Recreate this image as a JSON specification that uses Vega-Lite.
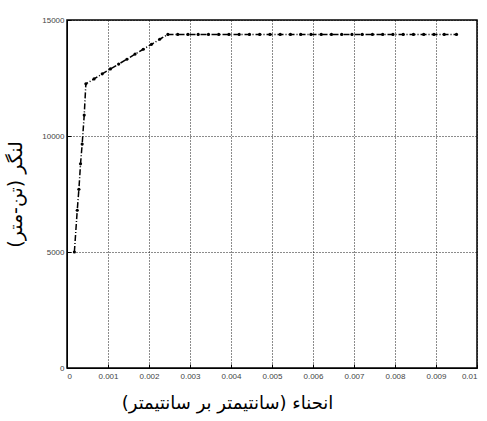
{
  "$schema": "https://vega.github.io/schema/vega-lite/v6.json",
  "width": 410,
  "height": 348,
  "autosize": "none",
  "padding": {"left": 67, "top": 20, "right": 10, "bottom": 53},
  "background": "white",
  "config": {
    "view": {"stroke": "black", "strokeWidth": 1.5},
    "axis": {
      "labelFont": "Liberation Sans",
      "labelFontSize": 8,
      "labelColor": "#444",
      "domainColor": "black",
      "tickColor": "black",
      "grid": true,
      "gridColor": "black",
      "gridDash": [1, 2],
      "gridOpacity": 0.9,
      "gridWidth": 1
    }
  },
  "data": {"values": [
    {"x": 0.00018, "y": 5000},
    {"x": 0.00025, "y": 6800},
    {"x": 0.00029, "y": 7700},
    {"x": 0.00033, "y": 8800},
    {"x": 0.00037, "y": 9650},
    {"x": 0.00042, "y": 10900},
    {"x": 0.00046, "y": 12250},
    {"x": 0.00066, "y": 12460},
    {"x": 0.00086, "y": 12680},
    {"x": 0.00106, "y": 12890},
    {"x": 0.00126, "y": 13100},
    {"x": 0.00146, "y": 13310},
    {"x": 0.00166, "y": 13530},
    {"x": 0.00186, "y": 13740},
    {"x": 0.00206, "y": 13950},
    {"x": 0.00226, "y": 14170},
    {"x": 0.00246, "y": 14380},
    {"x": 0.0027, "y": 14380},
    {"x": 0.00295, "y": 14380},
    {"x": 0.0032, "y": 14380},
    {"x": 0.00345, "y": 14380},
    {"x": 0.0037, "y": 14380},
    {"x": 0.00395, "y": 14380},
    {"x": 0.0042, "y": 14380},
    {"x": 0.00445, "y": 14380},
    {"x": 0.0047, "y": 14380},
    {"x": 0.00495, "y": 14380},
    {"x": 0.0052, "y": 14380},
    {"x": 0.00545, "y": 14380},
    {"x": 0.0057, "y": 14380},
    {"x": 0.00595, "y": 14380},
    {"x": 0.0062, "y": 14380},
    {"x": 0.00645, "y": 14380},
    {"x": 0.0067, "y": 14380},
    {"x": 0.00695, "y": 14380},
    {"x": 0.0072, "y": 14380},
    {"x": 0.00745, "y": 14380},
    {"x": 0.0077, "y": 14380},
    {"x": 0.00795, "y": 14380},
    {"x": 0.0082, "y": 14380},
    {"x": 0.00845, "y": 14380},
    {"x": 0.0087, "y": 14380},
    {"x": 0.00895, "y": 14380},
    {"x": 0.0092, "y": 14380},
    {"x": 0.0095, "y": 14380}
  ]},
  "layer": [
    {
      "mark": {"type": "line", "color": "black", "strokeWidth": 1.5, "strokeDash": [6, 2, 1, 2], "point": {"filled": true, "color": "black", "size": 10}},
      "encoding": {
        "x": {
          "field": "x", "type": "quantitative",
          "scale": {"domain": [0, 0.01], "nice": false, "zero": true},
          "axis": {
            "values": [0, 0.001, 0.002, 0.003, 0.004, 0.005, 0.006, 0.007, 0.008, 0.009, 0.01],
            "labelExpr": "datum.value == 0 ? '0' : format(datum.value, '.3~f')",
            "tickSize": -4,
            "labelPadding": 8,
            "title": "انحناء (سانتیمتر بر سانتیمتر)",
            "titleFont": "DejaVu Sans",
            "titleFontSize": 18,
            "titleFontWeight": "normal",
            "titleColor": "black",
            "titlePadding": 14,
            "titleX": 160
          }
        },
        "y": {
          "field": "y", "type": "quantitative",
          "scale": {"domain": [0, 15000], "nice": false},
          "axis": {
            "values": [0, 5000, 10000, 15000],
            "format": "d",
            "tickSize": -4,
            "labelPadding": 7,
            "title": "لنگر (تن-متر)",
            "titleFont": "DejaVu Sans",
            "titleFontSize": 19,
            "titleFontWeight": "normal",
            "titleColor": "black",
            "titlePadding": 16
          }
        }
      }
    }
  ]
}
